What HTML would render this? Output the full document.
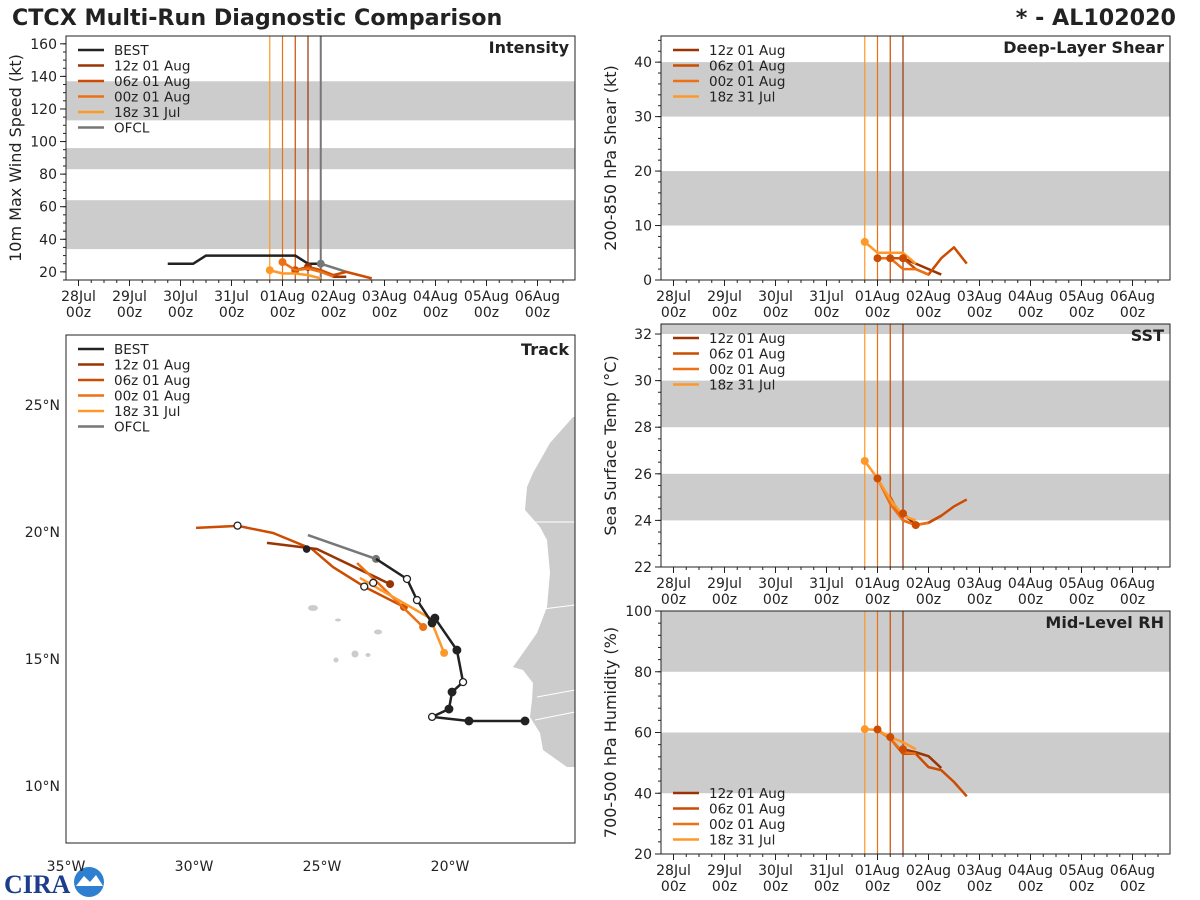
<!DOCTYPE html>
<html><head><meta charset="utf-8"><style>
body{margin:0;background:#fff;}
svg{display:block;font-family:"DejaVu Sans","Liberation Sans",sans-serif;}
</style></head><body>
<svg id="c" width="1200" height="900" viewBox="0 0 1200 900">
<text x="12" y="25" font-size="22.2" font-weight="bold" fill="#222">CTCX Multi-Run Diagnostic Comparison</text>
<text x="1176" y="25" font-size="22.2" font-weight="bold" fill="#222" text-anchor="end">* - AL102020</text>
<g>
<text x="4" y="893" font-size="26" font-weight="bold" fill="#1d3d8c" font-family="Liberation Serif,serif">CIRA</text>
<circle cx="89" cy="882" r="15" fill="#2f7fd0"/><path d="M76 886 L84 876 L90 882 L96 875 L103 886 Z" fill="#fff"/>
</g>
<g id="root"></g>
</svg>
<script>
// ---------- DATA ----------
const runs = ["12z 01 Aug","06z 01 Aug","00z 01 Aug","18z 31 Jul"];
const runHours = [108,102,96,90];
const dayLabels = ["28Jul","29Jul","30Jul","31Jul","01Aug","02Aug","03Aug","04Aug","05Aug","06Aug"];
// intensity (hour since 28Jul 00z, kt)
const bestIntH = [42,54,60,102,108,114];
const bestIntV = [25,25,30,30,25,25];
const ofclIntH = [114,126];
const ofclIntV = [25,20];
const int12H = [108,114,120,126]; const int12V = [23,21,17,17];
const int06H = [102,108,114,120,126,132,138]; const int06V = [21,23,21,18,20,18,16];
const int00H = [96,102,108,114,120]; const int00V = [26,21,22,20,17];
const int18H = [90,96,102,108,114]; const int18V = [21,19,19,18,16];
// shear
const bestShrH=[96,102,108]; const bestShrV=[4,4,4];
const shr12H=[108,114,120,126]; const shr12V=[4,3,2,1];
const shr06H=[102,108,114,120,126,132,138]; const shr06V=[4,4,2,1,4,6,3];
const shr00H=[96,102,108,114,120]; const shr00V=[4,4,2,2,1];
const shr18H=[90,96,102,108,114]; const shr18V=[7,5,5,5,3];
// SST
const bestSstH=[90,96,102,108,114,120,126]; const bestSstV=[26.6,25.8,24.9,24.3,23.8,24.0,24.3];
const sst12H=[108,114,120,126]; const sst12V=[24.3,23.8,23.9,24.2];
const sst06H=[102,108,114,120,126,132,138]; const sst06V=[25.0,24.0,23.8,23.9,24.2,24.6,24.9];
const sst00H=[96,102,108,114,120]; const sst00V=[25.8,24.7,24.0,23.8,23.9];
const sst18H=[90,96,102,108,114]; const sst18V=[26.55,25.8,24.9,24.2,24.0];
// RH
const bestRhH=[96,102,108]; const bestRhV=[61,58.5,54.5];
const rh12H=[108,114,120,126]; const rh12V=[54.5,53.5,52.2,48.3];
const rh06H=[102,108,114,120,126,132,138]; const rh06V=[58,53,53,48.6,47.6,43.7,39];
const rh00H=[96,102,108,114]; const rh00V=[60.8,58,53.5,53];
const rh18H=[90,96,102,108,114]; const rh18V=[61.1,60.8,58.5,56.8,54.5];
// track (deg W, deg N)
const bestLon=[17.07,19.26,20.70,20.04,19.92,19.49,19.73,20.59,20.70,21.29,21.68,22.89];
const bestLat=[12.56,12.56,12.72,13.03,13.70,14.09,15.35,16.61,16.42,17.32,18.15,18.94];
const ofclLon=[22.89,25.55]; const ofclLat=[18.94,19.88];
const trk12Lon=[22.34,25.20,27.15]; const trk12Lat=[17.95,19.33,19.57];
const trk06Lon=[21.80,23.32,24.57,25.39,26.91,28.28,29.92]; const trk06Lat=[17.05,17.83,18.62,19.33,19.96,20.24,20.16];
const trk00Lon=[21.05,22.81,23.63]; const trk00Lat=[16.26,17.99,18.78];
const trk18Lon=[20.23,20.78,23.52]; const trk18Lat=[15.24,16.61,18.19];

const C12="#993404",C06="#cc4c02",C00="#ec7014",C18="#fe9929",CB="#222",CO="#777";
const NS="http://www.w3.org/2000/svg";
const root=document.getElementById('root');
function el(tag,attrs,parent){const e=document.createElementNS(NS,tag);for(const k in attrs)e.setAttribute(k,attrs[k]);(parent||root).appendChild(e);return e;}
function txt(x,y,s,size,attrs,parent){const t=el('text',Object.assign({x:x,y:y,'font-size':size,fill:'#222'},attrs||{}),parent);t.textContent=s;return t;}

function timePanel(name,x0,x1,y0,y1,vmin,vmax,bands,ticks,minorStep,ylabel,title,legendY,series,vlines,bestPts){
  const g=el('g',{});
  
  
  const xs=h=>x0+12.5+h*2.125;
  const ys=v=>y1-(v-vmin)/(vmax-vmin)*(y1-y0);
  bands.forEach(b=>{const r=el('rect',{x:x0,y:ys(Math.min(b[1],vmax)),width:x1-x0,height:ys(b[0])-ys(Math.min(b[1],vmax)),fill:'#cccccc'},g);
    });
  for(let v=Math.ceil(vmin/minorStep)*minorStep;v<=vmax;v+=minorStep){el('line',{x1:x0-3,x2:x0,y1:ys(v),y2:ys(v),stroke:'#222','stroke-width':1},g);}
  ticks.forEach(v=>{el('line',{x1:x0-6,x2:x0,y1:ys(v),y2:ys(v),stroke:'#222','stroke-width':1},g);
    const t=txt(x0-9,ys(v)+5,String(v),14,{'text-anchor':'end'},g);});
  for(let h=0;h<=11*24;h+=6){const x=xs(h);if(x>x1)break;el('line',{x1:x,x2:x,y1:y1,y2:y1+(h%24===0?6:3),stroke:'#222'},g);}
  dayLabels.forEach((d,i)=>{const x=xs(i*24);const t=txt(x,y1+21,d,14,{'text-anchor':'middle'},g);
    txt(x,y1+37,'00z',14,{'text-anchor':'middle'},g);});
  const yl=txt(0,0,ylabel,16,{'text-anchor':'middle',transform:`translate(${x0-45},${(y0+y1)/2}) rotate(-90)`},g);
  
  vlines.forEach(v=>{const l=el('line',{x1:xs(v[0]),x2:xs(v[0]),y1:y0,y2:y1,stroke:v[1],'stroke-width':v[2]||1.2},g);
    });
  series.forEach(s=>{const pts=s.h.map((h,i)=>xs(h)+','+ys(s.v[i])).join(' ');
    const p=el('polyline',{points:pts,fill:'none',stroke:s.c,'stroke-width':2.5,'stroke-linejoin':'round'},g);
    
    if(s.dot){const d=el('circle',{cx:xs(s.h[0]),cy:ys(s.v[0]),r:4,fill:s.c},g);}
  });
  if(bestPts){bestPts.h.forEach((h,i)=>{const d=el('circle',{cx:xs(h),cy:ys(bestPts.v[i]),r:4,fill:bestPts.c},g);});}
  el('rect',{x:x0,y:y0,width:x1-x0,height:y1-y0,fill:'none',stroke:'#222','stroke-width':1},g);
  const tt=txt(x1-6,y0+17,title,16,{'text-anchor':'end','font-weight':'bold'},g);
  return g;
}
function legend(x,y,entries){
  entries.forEach((e,i)=>{const g=el('g',{});
    
    
    el('line',{x1:x,x2:x+26,y1:y+i*15.5,y2:y+i*15.5,stroke:e[1],'stroke-width':2.5},g);
    txt(x+36,y+i*15.5+5,e[0],13.5,{},g);});
}
const runEntries=[["12z 01 Aug",C12],["06z 01 Aug",C06],["00z 01 Aug",C00],["18z 31 Jul",C18]];
const vl=[[90,C18],[96,C00],[102,C06],[108,C12]];

// Intensity
timePanel('intensity',66,575,36,280,15,164.8,[[34,64],[83,96],[113,137]],[20,40,60,80,100,120,140,160],5,'10m Max Wind Speed (kt)','Intensity',0,
 [{n:'best',h:bestIntH,v:bestIntV,c:CB},{n:'ofcl',h:ofclIntH,v:ofclIntV,c:CO},
  {n:'run-12z',h:int12H,v:int12V,c:C12,dot:1},{n:'run-06z',h:int06H,v:int06V,c:C06,dot:1},
  {n:'run-00z',h:int00H,v:int00V,c:C00,dot:1},{n:'run-18z',h:int18H,v:int18V,c:C18,dot:1}],
 vl.concat([[114,CO,2]]),{h:[114],v:[25],c:CO});
legend(78,50,[["BEST",CB]].concat(runEntries,[["OFCL",CO]]));
// Shear
timePanel('shear',661,1170,36,280,0,44.8,[[10,20],[30,40]],[0,10,20,30,40],2,'200-850 hPa Shear (kt)','Deep-Layer Shear',0,
 [{n:'run-12z',h:shr12H,v:shr12V,c:C12},{n:'run-06z',h:shr06H,v:shr06V,c:C06},
  {n:'run-00z',h:shr00H,v:shr00V,c:C00},{n:'run-18z',h:shr18H,v:shr18V,c:C18,dot:1}],vl,{h:bestShrH,v:bestShrV,c:C06});
legend(673,50,runEntries);
// SST
timePanel('sst',661,1170,324,567,22,32.43,[[24,26],[28,30],[32,34]],[22,24,26,28,30,32],0.5,'Sea Surface Temp (°C)','SST',0,
 [{n:'run-12z',h:sst12H,v:sst12V,c:C12},{n:'run-06z',h:sst06H,v:sst06V,c:C06},
  {n:'run-00z',h:sst00H,v:sst00V,c:C00},{n:'run-18z',h:sst18H,v:sst18V,c:C18,dot:1}],vl,{h:[96,108,114],v:[25.8,24.3,23.8],c:C06});
legend(673,338,runEntries);
// RH
timePanel('rh',661,1170,611,854,20,100,[[40,60],[80,100]],[20,40,60,80,100],4,'700-500 hPa Humidity (%)','Mid-Level RH',0,
 [{n:'run-12z',h:rh12H,v:rh12V,c:C12},{n:'run-06z',h:rh06H,v:rh06V,c:C06},
  {n:'run-00z',h:rh00H,v:rh00V,c:C00},{n:'run-18z',h:rh18H,v:rh18V,c:C18,dot:1}],vl,{h:bestRhH,v:bestRhV,c:C06});
legend(673,793,runEntries);

// Track
(function(){
  const g=el('g',{});
  
  
  const X=w=>66+(35-w)*25.6, Y=n=>405-(n-25)*25.4;
  const land=el('polygon',{points:"575,417 573,417 550,443 533,473 527,487 525,510 540,527 547,540 550,573 547,607 537,633 523,653 513,667 523,670 533,683 532,700 530,717 540,733 543,750 567,767 575,767",fill:'#cccccc'},g);
  
  [[575,522,"M527 522 L575 522"],[0,0,"M535 610 L575 605"],[0,0,"M537 697 L575 690"],[0,0,"M535 720 L575 712"]].forEach(a=>{const p=el('path',{d:a[2],stroke:'#fff','stroke-width':1,fill:'none'},g);});
  [[313,608,5,3],[338,620,3,1.5],[378,632,4,2.5],[336,660,2.5,2.5],[355,654,3.5,3.5],[368,655,2.5,2]].forEach(a=>{const e=el('ellipse',{cx:a[0],cy:a[1],rx:a[2],ry:a[3],fill:'#cccccc'},g);});
  [[30,"30°W"],[25,"25°W"],[20,"20°W"],[35,"35°W"]].forEach(a=>{const t=txt(X(a[0]),871,a[1],14,{'text-anchor':'middle'},g);});
  [[25,"25°N"],[20,"20°N"],[15,"15°N"],[10,"10°N"]].forEach(a=>{const t=txt(60,Y(a[0])+5,a[1],14,{'text-anchor':'end'},g);});
  const tr=[['run-06z',trk06Lon,trk06Lat,C06],['run-12z',trk12Lon,trk12Lat,C12],['run-00z',trk00Lon,trk00Lat,C00],['run-18z',trk18Lon,trk18Lat,C18],['ofcl',ofclLon,ofclLat,CO],['best',bestLon,bestLat,CB]];
  tr.forEach(t=>{const p=el('polyline',{points:t[1].map((w,i)=>X(w)+','+Y(t[2][i])).join(' '),fill:'none',stroke:t[3],'stroke-width':2.5,'stroke-linejoin':'round'},g);
    
    if(t[0]!=='best'){const d=el('circle',{cx:X(t[1][0]),cy:Y(t[2][0]),r:4,fill:t[3]},g);}});
  const openIdx=[2,5,9,10];
  bestLon.forEach((w,i)=>{if(i===bestLon.length-1)return;const open=openIdx.includes(i);
    const d=el('circle',{cx:X(w),cy:Y(bestLat[i]),r:open?3.5:3.8,fill:open?'#fff':CB,stroke:CB,'stroke-width':1.3},g);
    });
  [[28.3,20.25],[23.35,17.85],[23.0,18.0]].forEach(a=>{const d=el('circle',{cx:X(a[0]),cy:Y(a[1]),r:3.5,fill:'#fff',stroke:CB,'stroke-width':1.3},g);});
  [[25.6,19.33]].forEach(a=>{const d=el('circle',{cx:X(a[0]),cy:Y(a[1]),r:3.8,fill:CB},g);});
  el('rect',{x:66,y:335,width:509,height:508,fill:'none',stroke:'#222'},g);
  const tt=txt(569,355,'Track',16,{'text-anchor':'end','font-weight':'bold'},g);
})();
legend(78,349,[["BEST",CB]].concat(runEntries,[["OFCL",CO]]));
</script>
</body></html>
